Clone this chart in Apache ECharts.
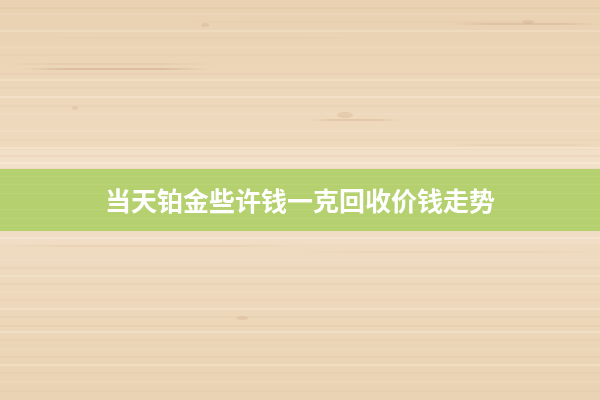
<!DOCTYPE html>
<html>
<head>
<meta charset="utf-8">
<script src="https://cdn.jsdelivr.net/npm/echarts@6/dist/echarts.min.js"></script>
<style>
  html, body { margin: 0; padding: 0; }
  #main { width: 600px; height: 400px; }
</style>
</head>
<body>
<div id="main"></div>
<script>
// 标题文字
var titleText = '当天铂金些许钱一克回收价钱走势';

// 木纹线条 [y, x起, x止, 透明度, 粗细, 深/浅]
var grainLines = [
    [8, 0, 600, 0.14, 1, 'd'], [14, 0, 600, 0.25, 1, 'l'], [22, 150, 600, 0.12, 1, 'd'],
    [24, 450, 600, 0.22, 2, 'd'], [31, 0, 600, 0.22, 2, 'l'], [38, 0, 400, 0.1, 1, 'd'],
    [47, 0, 600, 0.2, 1, 'l'], [55, 0, 600, 0.1, 1, 'd'], [64, 0, 220, 0.22, 1, 'd'],
    [69, 20, 210, 0.32, 2, 'd'], [74, 0, 600, 0.12, 1, 'd'], [80, 0, 600, 0.25, 2, 'l'],
    [88, 0, 600, 0.1, 1, 'd'], [97, 0, 600, 0.28, 2, 'l'], [106, 0, 600, 0.1, 1, 'd'],
    [114, 0, 600, 0.2, 1, 'l'], [120, 310, 400, 0.22, 2, 'd'], [131, 0, 600, 0.22, 1, 'l'],
    [140, 0, 600, 0.12, 1, 'd'], [145, 450, 600, 0.18, 1, 'd'], [148, 0, 600, 0.3, 2, 'l'],
    [156, 0, 600, 0.15, 1, 'd'], [163, 0, 600, 0.35, 2, 'l'],
    [238, 0, 600, 0.3, 2, 'l'], [246, 0, 300, 0.2, 1, 'd'], [252, 300, 600, 0.16, 1, 'd'],
    [260, 0, 600, 0.22, 1, 'l'], [268, 0, 600, 0.1, 1, 'd'], [276, 0, 600, 0.22, 2, 'l'],
    [284, 0, 600, 0.1, 1, 'd'], [292, 0, 600, 0.2, 1, 'l'], [300, 0, 600, 0.12, 1, 'd'],
    [309, 0, 600, 0.25, 2, 'l'], [317, 0, 600, 0.1, 1, 'd'], [326, 0, 600, 0.16, 1, 'd'],
    [332, 0, 600, 0.28, 2, 'l'], [340, 0, 600, 0.1, 1, 'd'], [349, 0, 600, 0.22, 1, 'l'],
    [357, 0, 600, 0.12, 1, 'd'], [365, 0, 600, 0.26, 2, 'l'], [373, 0, 600, 0.1, 1, 'd'],
    [382, 0, 600, 0.2, 1, 'l'], [391, 0, 600, 0.12, 1, 'd']
];

// 绿条上的细纹 [y, 透明度]
var bandLines = [[176, 0.08], [184, 0.06], [193, 0.07], [209, 0.06], [218, 0.08], [225, 0.06]];

// 木节 [cx, cy, rx, ry]
var knots = [
    [205, 25, 4, 2], [75, 108, 3, 2], [242, 318, 6, 2], [345, 115, 8, 3], [528, 22, 6, 2]
];

let chart = echarts.init(document.getElementById('main'), null, {renderer: 'canvas'});

let elements = [];

// 底色
elements.push({
    type: 'rect',
    shape: {x: 0, y: 0, width: 600, height: 400},
    style: {
        fill: new echarts.graphic.LinearGradient(0, 0, 0, 1, [
            {offset: 0, color: '#e9d1b1'},
            {offset: 0.3, color: '#eed9bd'},
            {offset: 0.6, color: '#efdbc0'},
            {offset: 1, color: '#ead3b4'}
        ])
    },
    silent: true
});

// 横向亮区
elements.push({
    type: 'rect',
    shape: {x: 0, y: 150, width: 600, height: 18},
    style: {fill: 'rgba(248,232,215,0.4)'},
    silent: true
});
elements.push({
    type: 'rect',
    shape: {x: 0, y: 232, width: 600, height: 12},
    style: {fill: 'rgba(245,225,205,0.45)'},
    silent: true
});

grainLines.forEach(function (g) {
    let rgb = g[5] === 'd' ? '185,140,100' : '255,246,232';
    let full = g[1] === 0 && g[2] === 600;
    // 局部纹路两端渐隐
    let stroke = full
        ? 'rgba(' + rgb + ',' + g[3] + ')'
        : new echarts.graphic.LinearGradient(0, 0, 1, 0, [
            {offset: 0, color: 'rgba(' + rgb + ',0)'},
            {offset: 0.25, color: 'rgba(' + rgb + ',' + g[3] + ')'},
            {offset: 0.75, color: 'rgba(' + rgb + ',' + g[3] + ')'},
            {offset: 1, color: 'rgba(' + rgb + ',0)'}
        ]);
    elements.push({
        type: 'rect',
        shape: {x: g[1], y: g[0] - g[4] / 2, width: g[2] - g[1], height: g[4]},
        style: {fill: stroke},
        silent: true
    });
});

knots.forEach(function (k) {
    elements.push({
        type: 'ellipse',
        shape: {cx: k[0], cy: k[1], rx: k[2], ry: k[3]},
        style: {fill: 'rgba(190,140,100,0.18)'},
        silent: true
    });
});

// 绿色横条
elements.push({
    type: 'rect',
    shape: {x: 0, y: 169, width: 600, height: 62},
    style: {fill: '#b5d16f'},
    silent: true
});
bandLines.forEach(function (b) {
    elements.push({
        type: 'rect',
        shape: {x: 0, y: b[0], width: 600, height: 1},
        style: {fill: 'rgba(255,255,230,' + b[1] + ')'},
        silent: true
    });
});

// 标题
elements.push({
    type: 'text',
    x: 300,
    y: 201,
    style: {
        text: titleText,
        fill: '#ffffff',
        font: 'bold 26px "Noto Sans CJK SC"',
        align: 'center',
        verticalAlign: 'middle'
    },
    silent: true
});

chart.setOption({
    animation: false,
    graphic: {elements: elements}
});
</script>
</body>
</html>
